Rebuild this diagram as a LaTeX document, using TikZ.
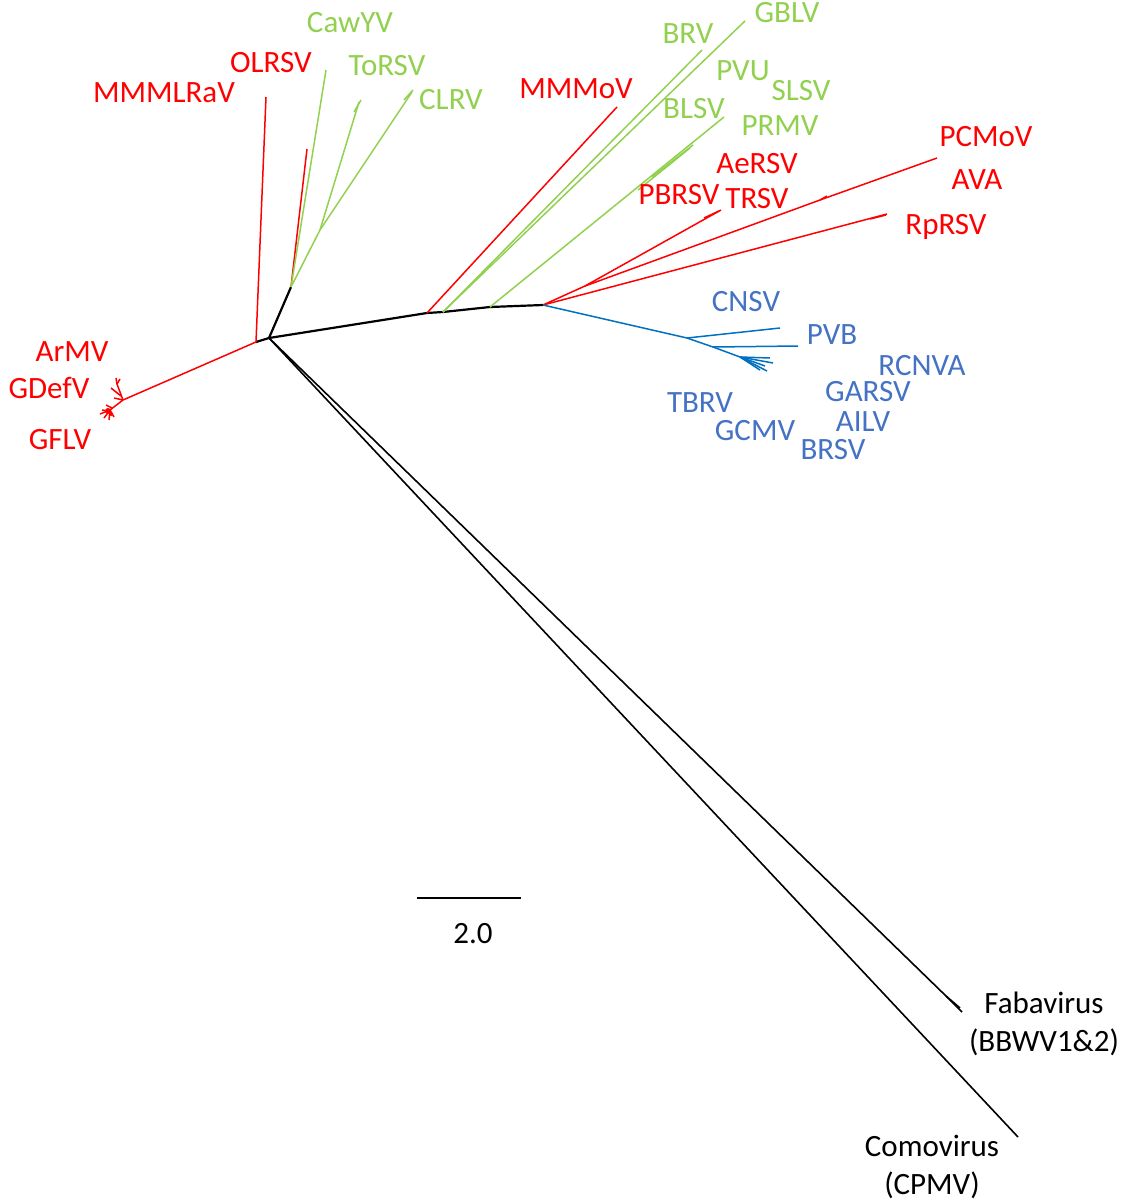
\documentclass[tikz,border=0pt]{standalone}
\usepackage{fontspec}
\setmainfont{Carlito}
\definecolor{tred}{RGB}{255,0,0}
\definecolor{tgreen}{RGB}{146,208,80}
\definecolor{tblue}{RGB}{0,112,192}
\definecolor{lblue}{RGB}{68,114,196}
\begin{document}
\begin{tikzpicture}[x=1pt,y=-1pt,
  redb/.style={draw=tred,line width=1.5pt},
  grnb/.style={draw=tgreen,line width=1.5pt},
  blub/.style={draw=tblue,line width=1.5pt},
  blkb/.style={draw=black,line width=1.6pt},
  trunk/.style={draw=black,line width=2.2pt},
  lab/.style={font=\fontsize{31}{38.5}\selectfont,inner sep=0pt,anchor=base},
  redl/.style={lab,text=tred},
  grnl/.style={lab,text=tgreen},
  blul/.style={lab,text=lblue},
  blkl/.style={lab,text=black},
  twol/.style={font=\fontsize{31}{38.5}\selectfont,inner sep=0pt,align=center,anchor=center}]
\useasboundingbox (0,0) rectangle (1127,1203);
% internal nodes
\coordinate (root) at (269,338);
\coordinate (nL) at (256,342);
\coordinate (nLC) at (123,400);
\coordinate (nUp) at (291,287);
\coordinate (nTo) at (320,230);
\coordinate (b1) at (427,313);
\coordinate (b2) at (443,312);
\coordinate (b3) at (490,307);
\coordinate (b4) at (543,305);
\coordinate (rJ) at (585,286);
\coordinate (rPC) at (820,200);
\coordinate (c1) at (687,338);
\coordinate (c2) at (713,347);
\coordinate (c3) at (740,357);
\coordinate (fJ) at (946,996);
% tips
\coordinate (tOL) at (266,97);
\coordinate (tR2) at (307,149);
\coordinate (tCaw) at (326,70);
\coordinate (tTo) at (359,102);
\coordinate (tCL) at (412,92);
\coordinate (tMMMoV) at (617,107);
\coordinate (tBRV) at (702,50);
\coordinate (tGBLV) at (745,21);
\coordinate (tBLSV) at (724,117);
\coordinate (tTRSV) at (721,210);
\coordinate (tPC) at (937,158);
\coordinate (tRp) at (887,214);
\coordinate (tCNSV) at (780,328);
\coordinate (tPVB) at (798,346);
\coordinate (tFab) at (962,1012);
\coordinate (tCom) at (1018,1137);

% black backbone
\draw[trunk] (nL) -- (root);
\draw[trunk] (root) -- (nUp);
\draw[trunk] (root) -- (b1) -- (b2) -- (b3) -- (b4);
\draw[blkb] (root) -- (fJ) -- (tFab);
\draw[blkb] (fJ) -- (960,1008);
\draw[blkb] (root) -- (tCom);

% left red cluster
\draw[redb] (nL) -- (nLC);
\draw[redb] (nL) -- (tOL);
\draw[redb] (nLC) -- (117,384) -- (116,378);
\draw[redb] (117,384) -- (120,379);
\draw[redb] (121,396) -- (111,388);
\draw[redb] (nLC) -- (114,398);
\draw[redb] (nLC) -- (110,410) -- (100,414);
\draw[redb] (110,410) -- (104,418);
\draw[redb] (110,410) -- (109,420);
\draw[redb] (112,408) -- (106,405);
\draw[redb] (110,410) -- (114,417);
\draw[redb] (108,411) -- (102,410);
\fill[tred] (108,411) circle (3pt);
\fill[tred] (111,414) circle (2pt);

% upper-left green/red cluster
\draw[redb] (nUp) -- (tR2);
\draw[grnb] (nUp) -- (tCaw);
\draw[grnb] (nUp) -- (nTo) -- (tTo);
\draw[grnb] (nTo) -- (tCL);
\draw[grnb] (354,112) -- (361,100);
\draw[grnb] (404,100) -- (413,90);

% upper-middle
\draw[redb] (b1) -- (tMMMoV);
\draw[grnb] (b2) -- (tBRV);
\draw[grnb] (b2) -- (tGBLV);
\draw[grnb] (b3) -- (tBLSV);
\draw[grnb] (638,190) -- (690,148);
\draw[grnb] (652,177) -- (693,145);

% red cluster right
\draw[redb] (b4) -- (rJ) -- (tTRSV);
\draw[redb] (704,218) -- (719,211);
\draw[redb] (rJ) -- (rPC) -- (tPC);
\draw[redb] (rPC) -- (827,196);
\draw[redb] (b4) -- (tRp);
\draw[redb] (870,219) -- (886,215);

% blue cluster
\draw[blub] (b4) -- (c1) -- (tCNSV);
\draw[blub] (c1) -- (c2) -- (tPVB);
\draw[blub] (c2) -- (c3);
\draw[blub] (c3) -- (773,363);
\draw[blub] (c3) -- (770,358);
\draw[blub] (c3) -- (767,371);
\draw[blub] (c3) -- (760,370);
\draw[blub] (c3) -- (765,366);

% scale bar
\coordinate (s1) at (417,898);
\coordinate (s2) at (521,898);
\draw[blkb,line width=1.3pt] (s1) -- (s2);

% labels
\node[redl] (lMMMLRaV) at (164,102.5) {MMMLRaV};
\node[redl] (lOLRSV) at (271,72.5) {OLRSV};
\node[grnl] (lCawYV) at (350,32.5) {CawYV};
\node[grnl] (lToRSV) at (387,75.5) {ToRSV};
\node[grnl] (lCLRV) at (451,109.5) {CLRV};
\node[redl] (lMMMoV) at (576,98.5) {MMMoV};
\node[grnl] (lBRV) at (688,43.5) {BRV};
\node[grnl] (lGBLV) at (787,22.5) {GBLV};
\node[grnl] (lPVU) at (743,80.5) {PVU};
\node[grnl] (lSLSV) at (801,100.5) {SLSV};
\node[grnl] (lBLSV) at (694,118.5) {BLSV};
\node[grnl] (lPRMV) at (780,135.5) {PRMV};
\node[redl] (lAeRSV) at (757,173.5) {AeRSV};
\node[redl] (lPBRSV) at (679,204.5) {PBRSV};
\node[redl] (lTRSV) at (757,208.5) {TRSV};
\node[redl] (lPCMoV) at (986,146.5) {PCMoV};
\node[redl] (lAVA) at (977,189.5) {AVA};
\node[redl] (lRpRSV) at (946,234.5) {RpRSV};
\node[blul] (lCNSV) at (746,311.5) {CNSV};
\node[blul] (lPVB) at (832,344.5) {PVB};
\node[blul] (lRCNVA) at (922,375.5) {RCNVA};
\node[blul] (lGARSV) at (868,401.5) {GARSV};
\node[blul] (lAILV) at (863,431.5) {AILV};
\node[blul] (lBRSV) at (833,459.5) {BRSV};
\node[blul] (lTBRV) at (700,412.5) {TBRV};
\node[blul] (lGCMV) at (755,440.5) {GCMV};
\node[redl] (lArMV) at (72,361.5) {ArMV};
\node[redl] (lGDefV) at (49,398.5) {GDefV};
\node[redl] (lGFLV) at (60,449.5) {GFLV};
\node[blkl] (lscale) at (473,943.5) {2.0};
\node[twol] (lFab) at (1044,1024) {Fabavirus\\(BBWV1\&2)};
\node[twol] (lCom) at (932,1167) {Comovirus\\(CPMV)};
\end{tikzpicture}
\end{document}
